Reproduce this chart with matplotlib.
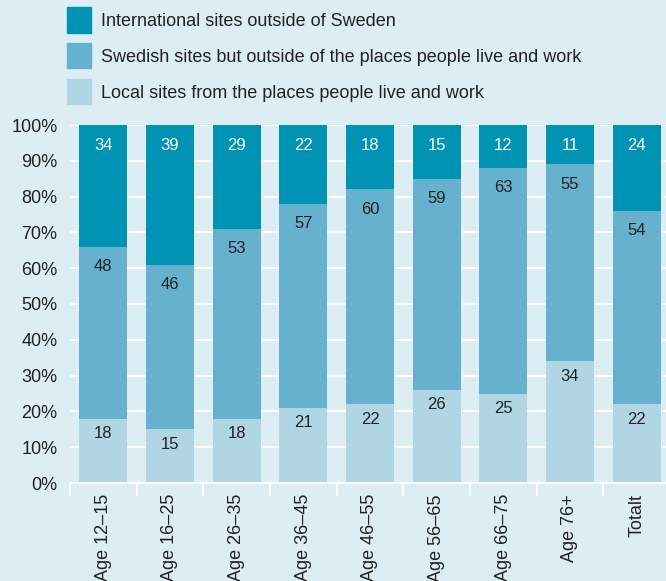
import matplotlib.pyplot as plt
from matplotlib.patches import Rectangle
import numpy as np

categories = ["Age 12\u201315", "Age 16\u201325", "Age 26\u201335", "Age 36\u201345",
              "Age 46\u201355", "Age 56\u201365", "Age 66\u201375", "Age 76+", "Totalt"]
local = [18, 15, 18, 21, 22, 26, 25, 34, 22]
swedish = [48, 46, 53, 57, 60, 59, 63, 55, 54]
international = [34, 39, 29, 22, 18, 15, 12, 11, 24]
series_names = [
    "International sites outside of Sweden",
    "Swedish sites but outside of the places people live and work",
    "Local sites from the places people live and work",
]
y_ticks = [0, 10, 20, 30, 40, 50, 60, 70, 80, 90, 100]

BG = "#ddedf4"
DARK = "#0093b4"
MID = "#66b1cd"
LIGHT = "#b0d6e4"
TEXT = "#222222"

plt.rcParams["font.family"] = ["Liberation Sans", "DejaVu Sans"]

fig = plt.figure(figsize=(6.66, 5.81), dpi=100, facecolor=BG)
ax = fig.add_axes([70 / 666, 1 - 483 / 581, 600 / 666, 358 / 581])
ax.set_facecolor(BG)

x = np.arange(len(categories))
w = 0.72
local_a = np.array(local)
swe_a = np.array(swedish)
int_a = np.array(international)

ax.bar(x, local_a, w, color=LIGHT, zorder=2)
ax.bar(x, swe_a, w, bottom=local_a, color=MID, zorder=2)
ax.bar(x, int_a, w, bottom=local_a + swe_a, color=DARK, zorder=2)

# value labels sit a fixed distance below the top of each segment
for i in range(len(x)):
    tops = [(local_a[i], local_a[i], TEXT, -15),
            (swe_a[i], local_a[i] + swe_a[i], TEXT, -20),
            (int_a[i], 100, "white", -20)]
    for val, top, col, off in tops:
        ax.annotate(str(val), (x[i], top), xytext=(0, off), textcoords="offset pixels",
                    ha="center", va="center", fontsize=12, color=col, zorder=3)

ax.set_xlim(-0.5, len(categories) - 0.5)
ax.set_ylim(0, 100)
ax.set_yticks(y_ticks)
ax.set_yticklabels([f"{t}%" for t in y_ticks], fontsize=13, color=TEXT)
ax.tick_params(axis="y", length=0, pad=9)
ax.set_xticks(x)
ax.set_xticklabels(categories, rotation=90, fontsize=13, color=TEXT, va="top")
ax.tick_params(axis="x", which="major", length=0, pad=8)
ax.set_xticks(np.arange(len(categories) + 1) - 0.5, minor=True)
ax.tick_params(axis="x", which="minor", length=9, width=1.5, color="white")

ax.grid(axis="y", color="white", linewidth=1.5, zorder=1)
ax.set_axisbelow(True)
for s in ["top", "right", "left"]:
    ax.spines[s].set_visible(False)
ax.spines["bottom"].set_color("white")
ax.spines["bottom"].set_linewidth(1.5)

legend_colors = [DARK, MID, LIGHT]
for k, (name, col) in enumerate(zip(series_names, legend_colors)):
    yc = 20 + k * 35.5
    fig.patches.append(Rectangle((67 / 666, 1 - (yc + 12.5) / 581), 24 / 666, 25 / 581,
                                 transform=fig.transFigure, color=col))
    fig.text(101 / 666, 1 - (yc + 2) / 581, name, fontsize=13, color=TEXT, va="center", ha="left")

fig.savefig("out.png", dpi=100, facecolor=BG)
